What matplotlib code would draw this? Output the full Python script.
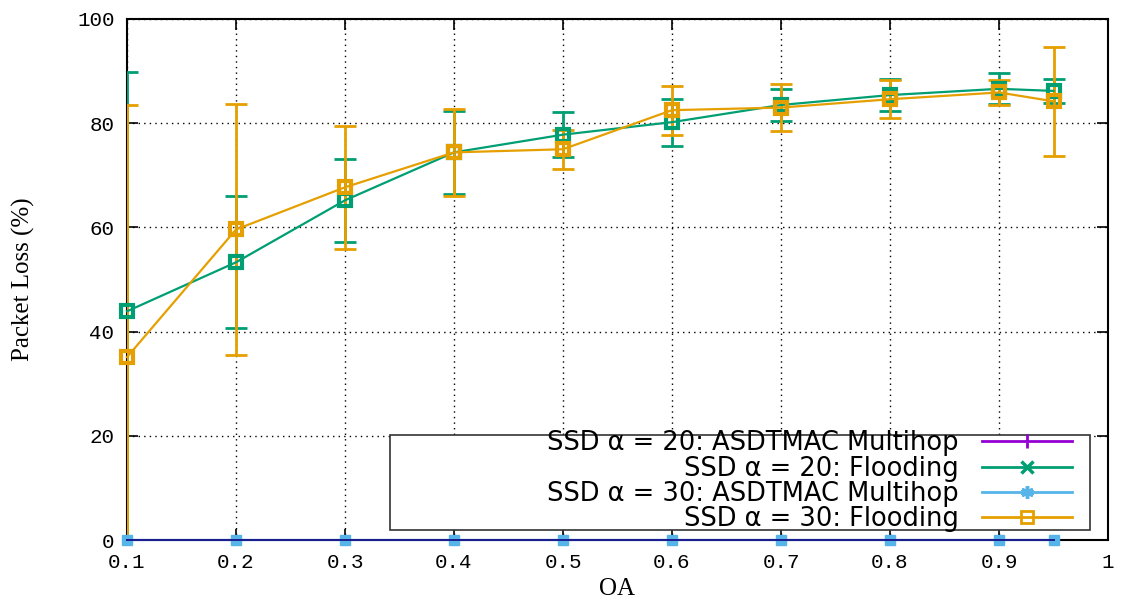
import matplotlib
matplotlib.use('Agg')
import matplotlib.pyplot as plt
from matplotlib.lines import Line2D
from matplotlib.patches import Rectangle

# 데이터
oa = [0.1, 0.2, 0.3, 0.4, 0.5, 0.6, 0.7, 0.8, 0.9, 0.95]

ssd20_multihop = [0, 0, 0, 0, 0, 0, 0, 0, 0, 0]
ssd20_flooding = [43.9, 53.3, 65.2, 74.4, 77.8, 80.2, 83.5, 85.4, 86.6, 86.2]
ssd20_flooding_err = [45.9, 12.7, 8.0, 8.0, 4.3, 4.5, 3.0, 3.0, 3.0, 2.3]

ssd30_multihop = [0, 0, 0, 0, 0, 0, 0, 0, 0, 0]
ssd30_flooding = [35.1, 59.6, 67.7, 74.4, 75.0, 82.5, 83.0, 84.6, 85.9, 84.2]
ssd30_flooding_err = [48.4, 24.0, 11.8, 8.3, 3.7, 4.7, 4.5, 3.6, 2.4, 10.5]

x_ticks = [0.1, 0.2, 0.3, 0.4, 0.5, 0.6, 0.7, 0.8, 0.9, 1.0]
x_tick_labels = ['0.1', '0.2', '0.3', '0.4', '0.5', '0.6', '0.7', '0.8', '0.9', '1']
y_ticks = [0, 20, 40, 60, 80, 100]

labels = ['SSD \u03b1 = 20: ASDTMAC Multihop',
          'SSD \u03b1 = 20: Flooding',
          'SSD \u03b1 = 30: ASDTMAC Multihop',
          'SSD \u03b1 = 30: Flooding']

PURPLE = '#9400d3'
GREEN = '#009e73'
BLUE = '#56b4e9'
ORANGE = '#e69f00'

W, H = 1125, 601
fig = plt.figure(figsize=(W / 100, H / 100), dpi=100)
ax = fig.add_axes([127 / W, 1 - 540 / H, (1108 - 127) / W, (540 - 19) / H])

# 그리드 (점선)
ax.set_axisbelow(True)
ax.grid(True, color='black', linestyle=(0, (1, 3)), linewidth=1.0)

# 오차 막대
ax.errorbar(oa, ssd20_flooding, yerr=ssd20_flooding_err, fmt='none',
            ecolor=GREEN, elinewidth=2.0, capsize=8, capthick=2.0, zorder=3)
ax.errorbar(oa, ssd30_flooding, yerr=ssd30_flooding_err, fmt='none',
            ecolor=ORANGE, elinewidth=2.0, capsize=8, capthick=2.0, zorder=4)

# 선 + 마커
ax.plot(oa, ssd20_flooding, color=GREEN, lw=1.6, marker='s', ms=8,
        mfc='none', mew=3, clip_on=False, zorder=5)
ax.plot(oa, ssd30_flooding, color=ORANGE, lw=1.6, marker='s', ms=8,
        mfc='none', mew=3, clip_on=False, zorder=6)
ax.plot(oa, ssd30_multihop, color=BLUE, lw=1.6, marker='s', ms=7,
        mfc=BLUE, mec=BLUE, clip_on=False, zorder=5)
ax.plot(oa, ssd20_multihop, color='#1a1a8c', lw=1.4, clip_on=False, zorder=6)

ax.set_xlim(0.1, 1.0)
ax.set_ylim(0, 100)
ax.set_xticks(x_ticks)
ax.set_xticklabels(x_tick_labels)
ax.set_yticks(y_ticks)

ax.tick_params(direction='in', length=8, width=1.2, top=True, right=True,
               labelsize=15, pad=9)
for lab in ax.get_xticklabels() + ax.get_yticklabels():
    lab.set_family('Liberation Mono')

for sp in ax.spines.values():
    sp.set_linewidth(1.5)

ax.set_xlabel('OA', family='Liberation Serif', fontsize=18, labelpad=5)
ax.set_ylabel('Packet Loss (%)', family='Liberation Serif', fontsize=18, labelpad=30)

# 범례 (gnuplot 스타일: 텍스트 오른쪽 정렬, 샘플 선은 오른쪽)
handles = [
    Line2D([], [], color=PURPLE, lw=2, marker='|', ms=10, mew=2),
    Line2D([], [], color=GREEN, lw=2, marker='x', ms=8, mew=2.5),
    Line2D([], [], color=BLUE, lw=2, marker=(6, 2, 0), ms=9, mew=2.5),
    Line2D([], [], color=ORANGE, lw=2, marker='s', ms=8, mfc='none', mew=2),
]
frame = Rectangle((390 / W, 1 - 530 / H), 700 / W, 95 / H, transform=fig.transFigure,
                  facecolor='white', edgecolor='#333333', lw=1.2, zorder=10)
fig.add_artist(frame)
leg = fig.legend(handles, labels, loc='lower right',
                 bbox_to_anchor=(1072 / W, 1 - 532 / H), bbox_transform=fig.transFigure,
                 frameon=False, markerfirst=False, borderaxespad=0, borderpad=0,
                 handlelength=3.5, handletextpad=0.9, labelspacing=-0.03,
                 prop={'family': 'DejaVu Sans', 'size': 18.5})
leg.set_zorder(11)
for col in leg._legend_handle_box.get_children():
    col.align = 'right'

fig.savefig('out.png', dpi=100, facecolor='white')
